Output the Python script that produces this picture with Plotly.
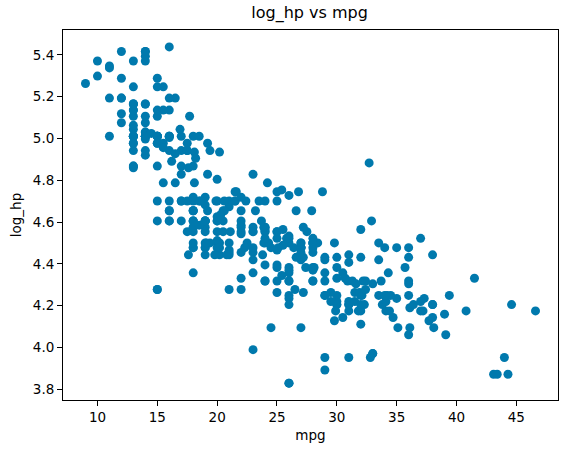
import numpy as np
import plotly.graph_objects as go

# auto-mpg rows with a known horsepower
mpg = [
    18, 15, 18, 16, 17, 15, 14, 14, 14, 15,
    15, 14, 15, 14, 24, 22, 18, 21, 27, 26,
    25, 24, 25, 26, 21, 10, 10, 11, 9, 27,
    28, 25, 19, 16, 17, 19, 18, 14, 14,
    14, 14, 12, 13, 13, 18, 22, 19, 18, 23,
    28, 30, 30, 31, 35, 27, 26, 24, 25, 23,
    20, 21, 13, 14, 15, 14, 17, 11, 13, 12,
    13, 19, 15, 13, 13, 14, 18, 22, 21, 26,
    22, 28, 23, 28, 27, 13, 14, 13, 14, 15,
    12, 13, 13, 14, 13, 12, 13, 18, 16, 18,
    18, 23, 26, 11, 12, 13, 12, 18, 20, 21,
    22, 18, 19, 21, 26, 15, 16, 29, 24, 20,
    19, 15, 24, 20, 11, 20, 19, 15, 31,
    26, 32, 25, 16, 16, 18, 16, 13, 14, 14,
    14, 29, 26, 26, 31, 32, 28, 24, 26, 24,
    26, 31, 19, 18, 15, 15, 16, 15, 16, 14,
    17, 16, 15, 18, 21, 20, 13, 29, 23, 20,
    23, 24, 25, 24, 18, 29, 19, 23, 23, 22,
    25, 33, 28, 25, 25, 26, 27, 17.5, 16, 15.5,
    14.5, 22, 22, 24, 22.5, 29, 24.5, 29, 33, 20,
    18, 18.5, 17.5, 29.5, 32, 28, 26.5, 20, 13, 19,
    19, 16.5, 16.5, 13, 13, 13, 31.5, 30, 36, 25.5,
    33.5, 17.5, 17, 15.5, 15, 17.5, 20.5, 19, 18.5, 16,
    15.5, 15.5, 16, 29, 24.5, 26, 25.5, 30.5, 33.5, 30,
    30.5, 22, 21.5, 21.5, 43.1, 36.1, 32.8, 39.4, 36.1, 19.9,
    19.4, 20.2, 19.2, 20.5, 20.2, 25.1, 20.5, 19.4, 20.6, 20.8,
    18.6, 18.1, 19.2, 17.7, 18.1, 17.5, 30, 27.5, 27.2, 30.9,
    21.1, 23.2, 23.8, 23.9, 20.3, 17, 21.6, 16.2, 31.5, 29.5,
    21.5, 19.8, 22.3, 20.2, 20.6, 17, 17.6, 16.5, 18.2, 16.9,
    15.5, 19.2, 18.5, 31.9, 34.1, 35.7, 27.4, 25.4, 23, 27.2,
    23.9, 34.2, 34.5, 31.8, 37.3, 28.4, 28.8, 26.8, 33.5, 41.5,
    38.1, 32.1, 37.2, 28, 26.4, 24.3, 19.1, 34.3, 29.8, 31.3,
    37, 32.2, 46.6, 27.9, 40.8, 44.3, 43.4, 36.4, 30, 44.6,
    33.8, 29.8, 32.7, 23.7, 35, 32.4, 27.2, 26.6,
    25.8, 23.5, 30, 39.1, 39, 35.1, 32.3, 37, 37.7, 34.1,
    34.7, 34.4, 29.9, 33, 33.7, 32.4, 32.9, 31.6, 28.1,
    30.7, 25.4, 24.2, 22.4, 26.6, 20.2, 17.6, 28, 27, 34,
    31, 29, 27, 24, 36, 37, 31, 38, 36, 36,
    36, 34, 38, 32, 38, 25, 38, 26, 22, 32,
    36, 27, 27, 44, 32, 28, 31,
]

horsepower = [
    130, 165, 150, 150, 140, 198, 220, 215, 225, 190,
    170, 160, 150, 225, 95, 95, 97, 85, 88, 46,
    87, 90, 95, 113, 90, 215, 200, 210, 193, 88,
    90, 95, 100, 105, 100, 88, 100, 165, 175,
    153, 150, 180, 170, 175, 110, 72, 100, 88, 86,
    90, 70, 76, 65, 69, 60, 70, 95, 80, 54,
    90, 86, 165, 175, 150, 153, 150, 208, 155, 160,
    190, 97, 150, 130, 140, 150, 112, 76, 87, 69,
    86, 92, 97, 80, 88, 175, 150, 145, 137, 150,
    198, 150, 158, 150, 215, 225, 175, 105, 100, 100,
    88, 95, 46, 150, 167, 170, 180, 100, 88, 72,
    94, 90, 85, 107, 90, 145, 230, 49, 75, 91,
    112, 150, 110, 122, 180, 95, 100, 100, 67,
    80, 65, 75, 100, 110, 105, 140, 150, 150, 140,
    150, 83, 67, 78, 52, 61, 75, 75, 75, 97,
    93, 67, 95, 105, 72, 72, 170, 145, 150, 148,
    110, 105, 110, 95, 110, 110, 129, 75, 83, 100,
    78, 96, 71, 97, 97, 70, 90, 95, 88, 98,
    115, 53, 86, 81, 92, 79, 83, 140, 150, 120,
    152, 100, 105, 81, 90, 52, 60, 70, 53, 100,
    78, 110, 95, 71, 70, 75, 72, 102, 150, 88,
    108, 120, 180, 145, 130, 150, 68, 80, 58, 96,
    70, 145, 110, 145, 130, 110, 105, 100, 98, 180,
    170, 190, 149, 78, 88, 75, 89, 63, 83, 67,
    78, 97, 110, 110, 48, 66, 52, 70, 60, 110,
    140, 139, 105, 95, 85, 88, 100, 90, 105, 85,
    110, 120, 145, 165, 139, 140, 68, 95, 97, 75,
    95, 105, 85, 97, 103, 125, 115, 133, 71, 68,
    115, 85, 88, 90, 110, 130, 129, 138, 135, 155,
    142, 125, 150, 71, 65, 80, 80, 77, 125, 71,
    90, 70, 70, 65, 69, 90, 115, 115, 90, 76,
    60, 70, 65, 90, 88, 90, 90, 78, 90, 75,
    92, 75, 65, 105, 65, 48, 48, 67, 67, 67,
    67, 62, 132, 100, 88, 72, 84, 84,
    92, 110, 84, 58, 64, 60, 67, 65, 62, 68,
    63, 65, 65, 74, 75, 75, 100, 74, 80,
    76, 116, 120, 110, 105, 88, 85, 88, 88, 88,
    85, 84, 90, 92, 74, 68, 68, 63, 70, 88,
    75, 70, 67, 67, 67, 110, 85, 92, 112, 96,
    84, 90, 86, 52, 84, 79, 82,
]

assert len(mpg) == len(horsepower)
log_hp = np.log(horsepower)

x_ticks = [10, 15, 20, 25, 30, 35, 40, 45]
y_ticks = [3.8, 4.0, 4.2, 4.4, 4.6, 4.8, 5.0, 5.2, 5.4]

fig = go.Figure()
fig.add_trace(go.Scatter(
    x=mpg, y=log_hp, mode="markers",
    marker=dict(size=9, color="#0079ad", line=dict(width=0)),
    showlegend=False,
))

axis_style = dict(
    showline=True, linecolor="black", linewidth=1, mirror=True,
    ticks="outside", ticklen=5, tickwidth=1, tickcolor="black",
    showgrid=False, zeroline=False, automargin=False,
    tickfont=dict(size=13.5, color="black"),
)

fig.update_layout(
    width=567, height=453,
    margin=dict(l=63, r=9, t=30, b=53),
    paper_bgcolor="white", plot_bgcolor="white",
    font=dict(family="DejaVu Sans", color="black"),
    title=dict(text="log_hp vs mpg", x=0.546, xanchor="center",
               y=0.972, yanchor="middle", font=dict(size=16)),
    xaxis=dict(range=[7.12, 48.48], tickvals=x_ticks,
               title=dict(text="mpg", font=dict(size=13.5), standoff=6),
               **axis_style),
    yaxis=dict(range=[3.748, 5.519], tickvals=y_ticks, tickformat=".1f",
               title=dict(text="log_hp", font=dict(size=13.5), standoff=8),
               **axis_style),
)

# the page's default body margin would shift the figure by 8px
fig.write_html("out.html", config={"displayModeBar": False},
               post_script="document.body.style.margin = '0';")
